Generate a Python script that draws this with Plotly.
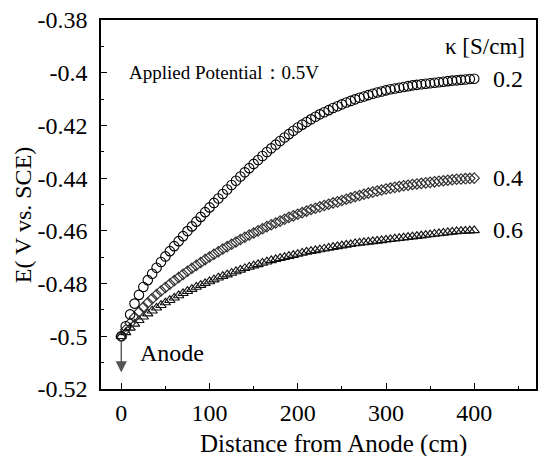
import plotly.graph_objects as go

# Distance from anode (cm)
distance = [0, 5, 10, 15, 20, 25, 30, 35, 40, 45, 50, 55, 60, 65, 70, 75, 80, 85, 90, 95,
            100, 105, 110, 115, 120, 125, 130, 135, 140, 145, 150, 155, 160, 165, 170, 175,
            180, 185, 190, 195, 200, 205, 210, 215, 220, 225, 230, 235, 240, 245, 250, 255,
            260, 265, 270, 275, 280, 285, 290, 295, 300, 305, 310, 315, 320, 325, 330, 335,
            340, 345, 350, 355, 360, 365, 370, 375, 380, 385, 390, 395, 400]

# kappa = 0.2 S/cm
e_k02 = [-0.5000, -0.4962, -0.4917, -0.4876, -0.4843, -0.4813, -0.4787, -0.4763, -0.4740, -0.4718,
         -0.4697, -0.4677, -0.4658, -0.4639, -0.4620, -0.4601, -0.4583, -0.4565, -0.4547, -0.4529,
         -0.4511, -0.4494, -0.4477, -0.4460, -0.4443, -0.4426, -0.4410, -0.4394, -0.4378, -0.4362,
         -0.4346, -0.4331, -0.4316, -0.4301, -0.4287, -0.4273, -0.4259, -0.4246, -0.4233, -0.4220,
         -0.4208, -0.4197, -0.4187, -0.4177, -0.4167, -0.4158, -0.4150, -0.4142, -0.4134, -0.4127,
         -0.4120, -0.4113, -0.4107, -0.4101, -0.4095, -0.4090, -0.4085, -0.4080, -0.4075, -0.4071,
         -0.4067, -0.4063, -0.4060, -0.4057, -0.4054, -0.4051, -0.4048, -0.4046, -0.4044, -0.4042,
         -0.4040, -0.4038, -0.4036, -0.4034, -0.4032, -0.4030, -0.4029, -0.4027, -0.4026, -0.4024,
         -0.4023]

# kappa = 0.4 S/cm
e_k04 = [-0.5000, -0.4975, -0.4950, -0.4928, -0.4908, -0.4890, -0.4873, -0.4857, -0.4842, -0.4828,
         -0.4815, -0.4802, -0.4789, -0.4777, -0.4765, -0.4753, -0.4742, -0.4731, -0.4720, -0.4709,
         -0.4699, -0.4689, -0.4679, -0.4669, -0.4660, -0.4651, -0.4642, -0.4633, -0.4624, -0.4616,
         -0.4608, -0.4600, -0.4592, -0.4584, -0.4577, -0.4570, -0.4563, -0.4556, -0.4549, -0.4543,
         -0.4537, -0.4531, -0.4525, -0.4519, -0.4514, -0.4509, -0.4504, -0.4499, -0.4494, -0.4490,
         -0.4485, -0.4480, -0.4475, -0.4470, -0.4466, -0.4461, -0.4457, -0.4453, -0.4449, -0.4445,
         -0.4441, -0.4438, -0.4435, -0.4432, -0.4429, -0.4427, -0.4424, -0.4422, -0.4420, -0.4418,
         -0.4416, -0.4414, -0.4412, -0.4410, -0.4408, -0.4406, -0.4404, -0.4403, -0.4402, -0.4401,
         -0.4400]

# kappa = 0.6 S/cm
e_k06 = [-0.5000, -0.4985, -0.4968, -0.4953, -0.4939, -0.4926, -0.4914, -0.4903, -0.4892, -0.4882,
         -0.4872, -0.4863, -0.4854, -0.4845, -0.4837, -0.4829, -0.4821, -0.4813, -0.4806, -0.4799,
         -0.4792, -0.4785, -0.4778, -0.4772, -0.4766, -0.4760, -0.4754, -0.4748, -0.4742, -0.4737,
         -0.4732, -0.4727, -0.4722, -0.4717, -0.4712, -0.4708, -0.4704, -0.4700, -0.4696, -0.4692,
         -0.4688, -0.4684, -0.4680, -0.4677, -0.4674, -0.4671, -0.4668, -0.4665, -0.4662, -0.4659,
         -0.4656, -0.4653, -0.4651, -0.4648, -0.4646, -0.4644, -0.4642, -0.4640, -0.4638, -0.4636,
         -0.4634, -0.4632, -0.4630, -0.4628, -0.4626, -0.4624, -0.4622, -0.4620, -0.4618, -0.4616,
         -0.4614, -0.4612, -0.4610, -0.4608, -0.4606, -0.4604, -0.4602, -0.4601, -0.4600, -0.4599,
         -0.4598]

kappa_labels = ["0.2", "0.4", "0.6"]
y_tickvals = [-0.52, -0.5, -0.48, -0.46, -0.44, -0.42, -0.4, -0.38]
y_ticktext = ["-0.52", "-0.5", "-0.48", "-0.46", "-0.44", "-0.42", "-0.4", "-0.38"]
x_tickvals = [0, 100, 200, 300, 400]
x_ticktext = ["0", "100", "200", "300", "400"]

SERIF = "Liberation Serif"

fig = go.Figure()
fig.add_trace(go.Scatter(x=distance, y=e_k06, mode="markers",
                         marker=dict(symbol="triangle-up-open", size=9, color="#111",
                                     line=dict(width=1.1, color="#111")),
                         showlegend=False))
fig.add_trace(go.Scatter(x=distance, y=e_k04, mode="markers",
                         marker=dict(symbol="diamond-open", size=8, color="#333",
                                     line=dict(width=1.2, color="#333")),
                         showlegend=False))
fig.add_trace(go.Scatter(x=distance, y=e_k02, mode="markers",
                         marker=dict(symbol="circle-open", size=9.5, color="#000",
                                     line=dict(width=1.1, color="#000")),
                         showlegend=False))

ends = [e_k02[-1], e_k04[-1], e_k06[-1]]
annotations = []
for lab, yv in zip(kappa_labels, ends):
    annotations.append(dict(x=419, y=yv, xref="x", yref="y", text=lab, showarrow=False,
                            xanchor="left", yanchor="middle",
                            font=dict(family=SERIF, size=24, color="#000")))
annotations += [
    dict(x=365, y=-0.3902, xref="x", yref="y", text="κ [S/cm]", showarrow=False,
         xanchor="left", yanchor="middle", font=dict(family=SERIF, size=23, color="#000")),
    dict(x=6.2, y=-0.4, xref="x", yref="y", text="Applied Potential：0.5V", showarrow=False,
         xanchor="left", yanchor="middle", font=dict(family=SERIF, size=19, color="#000")),
    dict(x=18.5, y=-0.5063, xref="x", yref="y", text="Anode", showarrow=False,
         xanchor="left", yanchor="middle", font=dict(family=SERIF, size=24, color="#000")),
    dict(x=0, y=-0.5137, xref="x", yref="y", ax=0, ay=-0.5010, axref="x", ayref="y",
         text="", showarrow=True, arrowhead=2, arrowsize=1.6, arrowwidth=1.4,
         arrowcolor="#555"),
    dict(x=-0.1808, y=0.472, xref="paper", yref="paper", text="E( V vs. SCE)",
         showarrow=False, textangle=-90, xanchor="center", yanchor="middle",
         font=dict(family=SERIF, size=24, color="#000")),
    dict(x=0.535, y=-0.148, xref="paper", yref="paper", text="Distance from Anode (cm)",
         showarrow=False, xanchor="center", yanchor="middle",
         font=dict(family=SERIF, size=25, color="#000")),
]

fig.update_layout(
    width=542, height=456,
    margin=dict(l=101, r=4, t=20, b=67),
    paper_bgcolor="white", plot_bgcolor="white",
    font=dict(family=SERIF, color="#000"),
    annotations=annotations,
    xaxis=dict(range=[-23, 470], tickvals=x_tickvals, ticktext=x_ticktext,
               ticks="inside", ticklen=6, tickwidth=1, tickcolor="#000",
               minor=dict(dtick=50, tick0=0, ticks="inside", ticklen=3, tickcolor="#000"),
               showline=True, linecolor="#000", linewidth=1.5, mirror=True,
               showgrid=False, zeroline=False, ticklabelstandoff=1,
               tickfont=dict(family=SERIF, size=24, color="#000")),
    yaxis=dict(range=[-0.52, -0.38], tickvals=y_tickvals, ticktext=y_ticktext,
               ticks="inside", ticklen=6, tickwidth=1, tickcolor="#000",
               minor=dict(dtick=0.01, tick0=-0.52, ticks="inside", ticklen=3, tickcolor="#000"),
               showline=True, linecolor="#000", linewidth=1.5, mirror=True,
               showgrid=False, zeroline=False, ticklabelstandoff=7,
               tickfont=dict(family=SERIF, size=24, color="#000")),
)

fig.write_html("out.html")
